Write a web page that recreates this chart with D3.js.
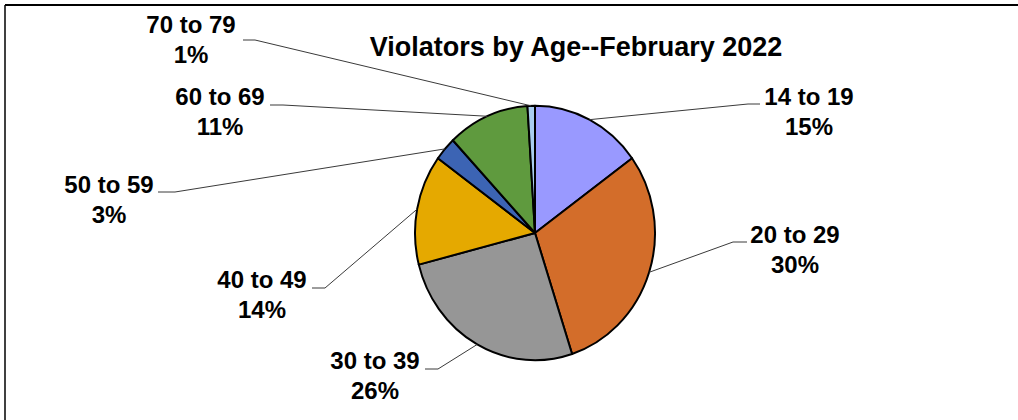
<!DOCTYPE html>
<html>
<head>
<meta charset="utf-8">
<script src="https://cdn.jsdelivr.net/npm/d3@7"></script>
<style>
  body { margin: 0; background: #fff; }
  svg { display: block; font-family: "Liberation Sans", Arial, sans-serif; font-weight: bold; }
</style>
</head>
<body>
<div class="chart"></div>
<script>
// data
const ageGroups = ["14 to 19", "20 to 29", "30 to 39", "40 to 49", "50 to 59", "60 to 69", "70 to 79"];
const shares = [15, 30, 26, 14, 3, 11, 1];
const sliceColors = ["#9999ff", "#d36d2a", "#969696", "#e5a900", "#3c64b4", "#5f9a3e", "#a9cdef"];

// label layout: text centre x, first baseline y, leader elbow from x0 to x1 at y
const labelPos = [
  { x: 809, y: 105, x0: 760, x1: 748, ly: 104 },
  { x: 795, y: 243, x0: 747, x1: 733, ly: 242 },
  { x: 375, y: 369, x0: 425, x1: 438, ly: 369 },
  { x: 262, y: 288, x0: 312, x1: 325, ly: 288 },
  { x: 109, y: 193, x0: 158, x1: 175, ly: 192 },
  { x: 220, y: 105, x0: 270, x1: 283, ly: 105 },
  { x: 191, y: 33, x0: 243, x1: 255, ly: 40 }
];

const width = 1018;
const height = 420;
const cx = 535, cy = 233;
const radius = 120;
const squash = 1.06;

const svg = d3.select(".chart")
    .append("svg")
    .attr("width", width)
    .attr("height", height);

// frame
svg.append("line")
    .attr("x1", 5).attr("y1", 5).attr("x2", width).attr("y2", 5)
    .attr("stroke", "#000").attr("stroke-width", 2);
svg.append("line")
    .attr("x1", 5).attr("y1", 5).attr("x2", 5).attr("y2", height)
    .attr("stroke", "#000").attr("stroke-width", 1.5);

svg.append("text")
    .attr("x", 576)
    .attr("y", 56)
    .attr("text-anchor", "middle")
    .style("font-size", "27px")
    .text("Violators by Age--February 2022");

const data = ageGroups.map(function (g, i) { return { label: g, value: shares[i], color: sliceColors[i], pos: labelPos[i] }; });

const pie = d3.pie()
    .sort(null)
    .value(function (d) { return d.value; });

const arc = d3.arc()
    .innerRadius(0)
    .outerRadius(radius);

const arcs = pie(data);

const g = svg.append("g")
    .attr("transform", "translate(" + cx + "," + cy + ") scale(1," + squash + ")");

g.selectAll("path")
    .data(arcs)
    .enter()
    .append("path")
    .attr("d", arc)
    .attr("fill", function (d) { return d.data.color; })
    .attr("stroke", "#000")
    .attr("stroke-width", 2)
    .attr("stroke-linejoin", "round")
    .attr("vector-effect", "non-scaling-stroke");

// leader lines
function edgePoint(d) {
  const a = (d.startAngle + d.endAngle) / 2;
  return [cx + radius * Math.sin(a), cy - radius * squash * Math.cos(a)];
}

svg.append("g")
    .selectAll("polyline")
    .data(arcs)
    .enter()
    .append("polyline")
    .attr("points", function (d) {
      const p = d.data.pos;
      const e = edgePoint(d);
      return [[p.x0, p.ly], [p.x1, p.ly], e].map(function (q) { return q.join(","); }).join(" ");
    })
    .attr("fill", "none")
    .attr("stroke", "#3a3a3a")
    .attr("stroke-width", 1);

const labels = svg.append("g")
    .selectAll("text")
    .data(arcs)
    .enter()
    .append("text")
    .attr("text-anchor", "middle")
    .style("font-size", "24px");

labels.append("tspan")
    .attr("x", function (d) { return d.data.pos.x; })
    .attr("y", function (d) { return d.data.pos.y; })
    .text(function (d) { return d.data.label; });

labels.append("tspan")
    .attr("x", function (d) { return d.data.pos.x; })
    .attr("y", function (d) { return d.data.pos.y + 30; })
    .text(function (d) { return d.data.value + "%"; });
</script>
</body>
</html>
